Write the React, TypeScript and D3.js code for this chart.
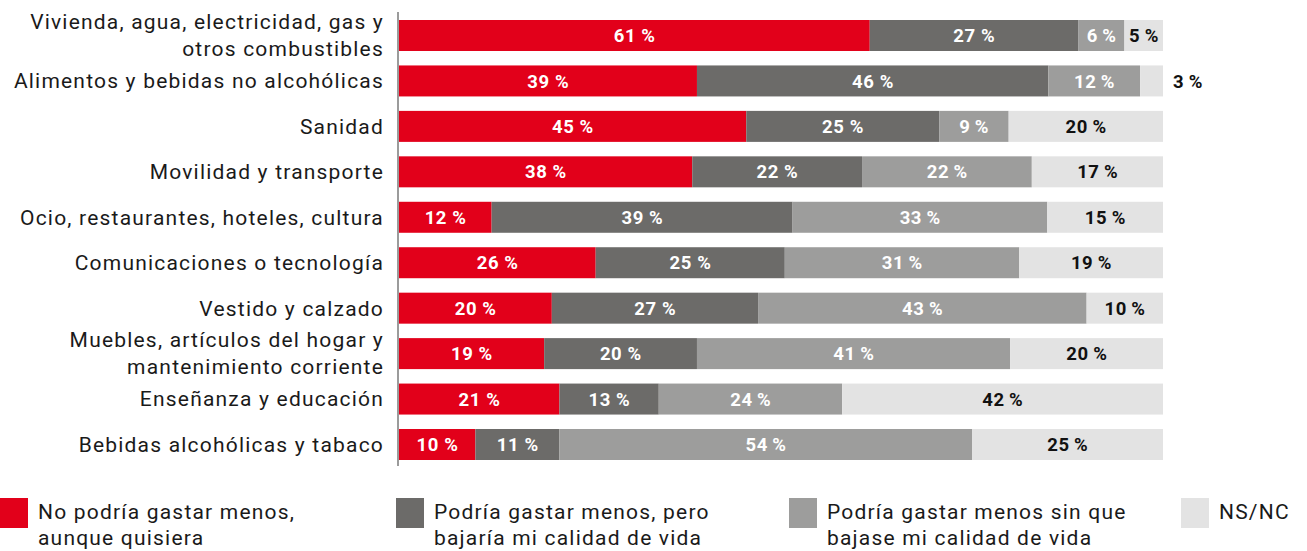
import React, { useEffect, useRef } from "react";
import * as d3 from "d3";

const categories = [
  "Vivienda, agua, electricidad, gas y|otros combustibles",
  "Alimentos y bebidas no alcohólicas",
  "Sanidad",
  "Movilidad y transporte",
  "Ocio, restaurantes, hoteles, cultura",
  "Comunicaciones o tecnología",
  "Vestido y calzado",
  "Muebles, artículos del hogar y|mantenimiento corriente",
  "Enseñanza y educación",
  "Bebidas alcohólicas y tabaco",
];

const seriesKeys = ["noPodria", "podriaBajaria", "podriaSin", "nsnc"];
const seriesNames = [
  "No podría gastar menos,|aunque quisiera",
  "Podría gastar menos, pero|bajaría mi calidad de vida",
  "Podría gastar menos sin que|bajase mi calidad de vida",
  "NS/NC",
];
const noPodria = [61, 39, 45, 38, 12, 26, 20, 19, 21, 10];
const podriaBajaria = [27, 46, 25, 22, 39, 25, 27, 20, 13, 11];
const podriaSin = [6, 12, 9, 22, 33, 31, 43, 41, 24, 54];
const nsnc = [5, 3, 20, 17, 15, 19, 10, 20, 42, 25];

const colors = ["#e2001a", "#6c6b69", "#9d9d9c", "#e3e3e3"];
const labelColors = ["#ffffff", "#ffffff", "#ffffff", "#111111"];

const W = 1307;
const H = 551;
const FONT = "Roboto, 'DejaVu Sans', sans-serif";

export default function App() {
  const ref = useRef<SVGSVGElement | null>(null);

  useEffect(() => {
    const svg = d3.select(ref.current);
    svg.selectAll("*").remove();

    const rows = categories.map((c, i) => ({
      cat: c,
      noPodria: noPodria[i],
      podriaBajaria: podriaBajaria[i],
      podriaSin: podriaSin[i],
      nsnc: nsnc[i],
    }));

    const stack = d3
      .stack<any>()
      .keys(seriesKeys)
      .offset(d3.stackOffsetExpand);
    const stacked = stack(rows);

    const x = d3.scaleLinear().domain([0, 1]).range([399, 1163]);
    const y = d3
      .scaleBand<string>()
      .domain(categories)
      .range([20, 460])
      .paddingInner(0.318)
      .paddingOuter(0);

    const g = svg.append("g");

    stacked.forEach((layer, si) => {
      const lg = g.append("g");
      lg.selectAll("rect")
        .data(layer)
        .join("rect")
        .attr("x", (d) => x(d[0]))
        .attr("y", (d) => y(d.data.cat)!)
        .attr("width", (d) => x(d[1]) - x(d[0]))
        .attr("height", y.bandwidth())
        .attr("fill", colors[si]);

      lg.selectAll("text")
        .data(layer)
        .join("text")
        .attr("x", (d) => {
          const w = x(d[1]) - x(d[0]);
          if (w < 30) return x(1) + 25;
          return (x(d[0]) + x(d[1])) / 2 + 0.3;
        })
        .attr("y", (d) => y(d.data.cat)! + y.bandwidth() / 2)
        .attr("dy", "0.36em")
        .attr("text-anchor", "middle")
        .attr("font-family", FONT)
        .attr("font-weight", "bold")
        .attr("font-size", 18.5)
        .attr("letter-spacing", 0.6)
        .attr("fill", (d) => {
          const w = x(d[1]) - x(d[0]);
          return w < 30 ? "#111111" : labelColors[si];
        })
        .text((d) => {
          const v = (d.data as any)[seriesKeys[si]];
          return si < 2 ? `${v} %` : `${v}\u2009%`;
        });
    });

    // axis line
    g.append("line")
      .attr("x1", 398)
      .attr("x2", 398)
      .attr("y1", 12)
      .attr("y2", 466)
      .attr("stroke", "#7a7a7a")
      .attr("stroke-width", 1.5);

    // category labels
    categories.forEach((c) => {
      const lines = c.split("|");
      const cy = y(c)! + y.bandwidth() / 2;
      const t = g
        .append("text")
        .attr("text-anchor", "end")
        .attr("font-family", FONT)
        .attr("font-size", 21)
        .attr("letter-spacing", 1.2)
        .attr("fill", "#1a1a1a");
      lines.forEach((ln, li) => {
        t.append("tspan")
          .attr("x", 384)
          .attr("y", cy + (li - (lines.length - 1) / 2) * 27)
          .attr("dy", "0.35em")
          .text(ln);
      });
    });

    // legend
    const legendX = [0, 396, 789, 1181];
    seriesNames.forEach((name, i) => {
      const lx = legendX[i];
      g.append("rect")
        .attr("x", lx)
        .attr("y", 498)
        .attr("width", 28)
        .attr("height", 30)
        .attr("fill", colors[i]);
      const t = g
        .append("text")
        .attr("font-family", FONT)
        .attr("font-size", 21)
        .attr("letter-spacing", 1.2)
        .attr("fill", "#1a1a1a");
      name.split("|").forEach((ln, li) => {
        t.append("tspan")
          .attr("x", lx + 38)
          .attr("y", 519 + li * 26)
          .text(ln);
      });
    });
  }, []);

  return (
    <div style={{ position: "absolute", left: 0, top: 0, width: W, height: H, background: "#fff" }}>
      <svg ref={ref} width={W} height={H} />
    </div>
  );
}
